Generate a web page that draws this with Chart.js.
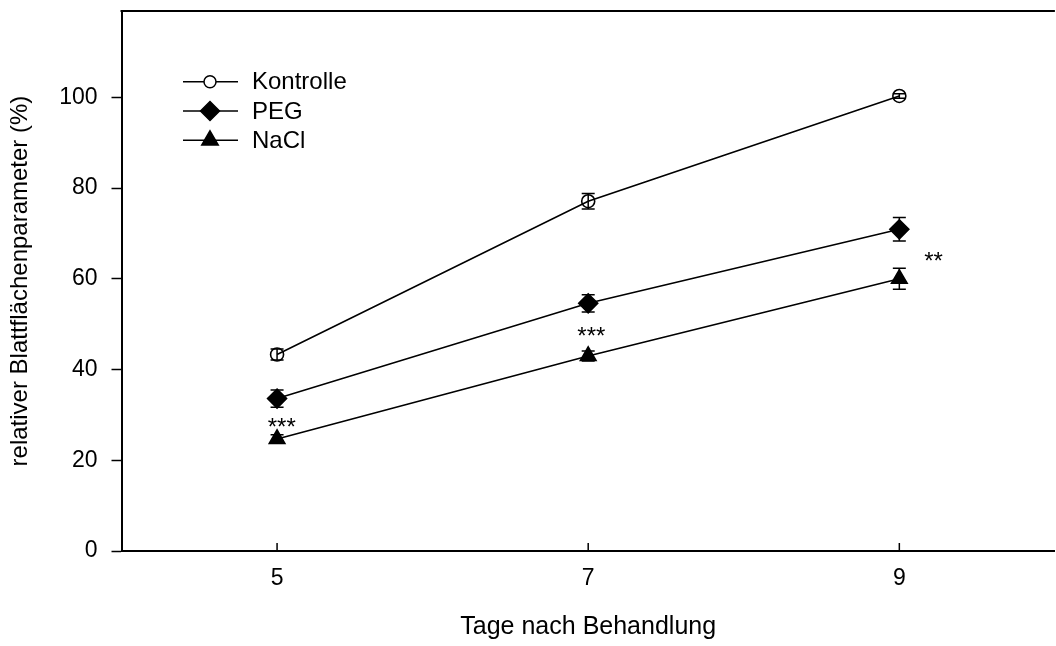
<!DOCTYPE html>
<html>
<head>
<meta charset="utf-8">
<script src="https://cdn.jsdelivr.net/npm/chart.js@4/dist/chart.umd.min.js"></script>
<style>
  html, body { margin: 0; padding: 0; background: #fff; overflow: hidden; }
  #wrap { width: 1066px; height: 646px; position: relative; }
</style>
</head>
<body>
<div id="wrap"><canvas id="c"></canvas></div>
<script>
// Days after treatment and relative leaf-area values (%), mean ± error
const days = [5, 7, 9];
const kontrolle = [43.3, 77.1, 100.3];
const kontrolleErr = [1.2, 1.7, 0.5];
const peg = [33.6, 54.6, 70.9];
const pegErr = [1.9, 1.9, 2.6];
const nacl = [24.7, 43.0, 60.0];
const naclErr = [0.9, 1.1, 2.3];

const xTicks = [5, 7, 9];
const yTicks = [0, 20, 40, 60, 80, 100];

// significance labels
const sigX = [5.03, 7.02, 9.22];
const sigY = [28.5, 48.6, 65.3];
const sigText = ['***', '***', '**'];

const FONT = "'Liberation Sans', Arial, Helvetica, sans-serif";

function pts(vals) { return days.map((d, i) => ({ x: d, y: vals[i] })); }

const errorBars = {
  id: 'errorBars',
  beforeDatasetsDraw(chart) {
    const ctx = chart.ctx, ys = chart.scales.y;
    ctx.save();
    ctx.strokeStyle = '#000';
    ctx.lineWidth = 1.5;
    chart.data.datasets.forEach((ds, i) => {
      const meta = chart.getDatasetMeta(i);
      meta.data.forEach((el, j) => {
        const v = ds.data[j].y, e = ds.errors[j];
        const x = el.x, y1 = ys.getPixelForValue(v - e), y2 = ys.getPixelForValue(v + e);
        ctx.beginPath();
        ctx.moveTo(x, y1); ctx.lineTo(x, y2);
        ctx.moveTo(x - 6.5, y1); ctx.lineTo(x + 6.5, y1);
        ctx.moveTo(x - 6.5, y2); ctx.lineTo(x + 6.5, y2);
        ctx.stroke();
      });
    });
    ctx.restore();
  }
};

const frameAndExtras = {
  id: 'frameAndExtras',
  afterDraw(chart) {
    const ctx = chart.ctx, a = chart.chartArea;
    const xs = chart.scales.x, ys = chart.scales.y;
    ctx.save();
    // top frame line
    ctx.strokeStyle = '#000';
    ctx.lineWidth = 2;
    ctx.beginPath();
    ctx.moveTo(a.left - 1, a.top); ctx.lineTo(a.right, a.top);
    ctx.stroke();
    // inward x ticks
    ctx.lineWidth = 1.5;
    ctx.beginPath();
    xTicks.forEach(t => {
      const px = xs.getPixelForValue(t);
      ctx.moveTo(px, a.bottom); ctx.lineTo(px, a.bottom - 8);
    });
    ctx.stroke();

    // significance asterisks
    ctx.fillStyle = '#000';
    ctx.font = '24px ' + FONT;
    ctx.textAlign = 'center';
    ctx.textBaseline = 'alphabetic';
    sigText.forEach((s, i) => {
      ctx.fillText(s, xs.getPixelForValue(sigX[i]), ys.getPixelForValue(sigY[i]) + 0.575 * 24);
    });

    // legend
    const legR = [6, 9.5, 9.5];
    ctx.font = '24px ' + FONT;
    ctx.textAlign = 'left';
    ctx.textBaseline = 'middle';
    chart.data.datasets.forEach((ds, i) => {
      const y = 81.7 + i * 29.3;
      ctx.strokeStyle = '#000';
      ctx.lineWidth = 1.5;
      ctx.beginPath();
      ctx.moveTo(183, y); ctx.lineTo(238, y);
      ctx.stroke();
      ctx.fillStyle = ds.pointStyle === 'circle' ? '#fff' : '#000';
      Chart.helpers.drawPoint(ctx, { pointStyle: ds.pointStyle, radius: legR[i], borderWidth: 1.5, rotation: 0 }, 210, y);
      ctx.fillStyle = '#000';
      ctx.fillText(ds.label, 252, y + 1);
    });
    ctx.restore();
  }
};

function noScalePadding(s) {
  s.paddingTop = 0; s.paddingBottom = 0; s.paddingLeft = 0; s.paddingRight = 0;
}

new Chart(document.getElementById('c'), {
  type: 'scatter',
  data: {
    datasets: [
      { label: 'Kontrolle', data: pts(kontrolle), errors: kontrolleErr, pointStyle: 'circle', pointRadius: 6.5,
        pointBackgroundColor: 'rgba(0,0,0,0)' },
      { label: 'PEG', data: pts(peg), errors: pegErr, pointStyle: 'rectRot', pointRadius: 9.5,
        pointBackgroundColor: '#000' },
      { label: 'NaCl', data: pts(nacl), errors: naclErr, pointStyle: 'triangle', pointRadius: 9,
        pointBackgroundColor: '#000' }
    ].map(d => Object.assign(d, {
      showLine: true, borderColor: '#000', borderWidth: 1.6,
      pointBorderColor: '#000', pointBorderWidth: 1.6, pointHoverRadius: d.pointRadius
    }))
  },
  options: {
    responsive: true,
    maintainAspectRatio: false,
    animation: false,
    events: [],
    layout: { padding: { top: 8, left: 0, right: 0, bottom: 0 } },
    plugins: { legend: { display: false }, tooltip: { enabled: false } },
    scales: {
      x: {
        type: 'linear', min: 4, max: 10,
        afterBuildTicks: s => { s.ticks = xTicks.map(v => ({ value: v })); },
        afterFit: s => { s.height = 95; noScalePadding(s); },
        grid: { display: false, drawTicks: false },
        border: { display: true, color: '#000', width: 2 },
        ticks: { color: '#000', padding: 14, font: { family: FONT, size: 23 } },
        title: { display: true, text: 'Tage nach Behandlung', color: '#000',
                 font: { family: FONT, size: 25 }, padding: { top: 0, bottom: 4 } }
      },
      y: {
        type: 'linear', min: 0, max: 119,
        afterBuildTicks: s => { s.ticks = yTicks.map(v => ({ value: v })); },
        afterFit: s => { s.width = 121.5; noScalePadding(s); },
        grid: { drawOnChartArea: false, drawTicks: true, tickLength: 10, tickColor: '#000', tickWidth: 1.5 },
        border: { display: true, color: '#000', width: 2 },
        ticks: { color: '#000', padding: 14, font: { family: FONT, size: 23 } },
        title: { display: true, text: 'relativer Blattflächenparameter (%)', color: '#000',
                 font: { family: FONT, size: 24 }, padding: { top: 6, bottom: 0 } }
      }
    }
  },
  plugins: [errorBars, frameAndExtras]
});
</script>
</body>
</html>
